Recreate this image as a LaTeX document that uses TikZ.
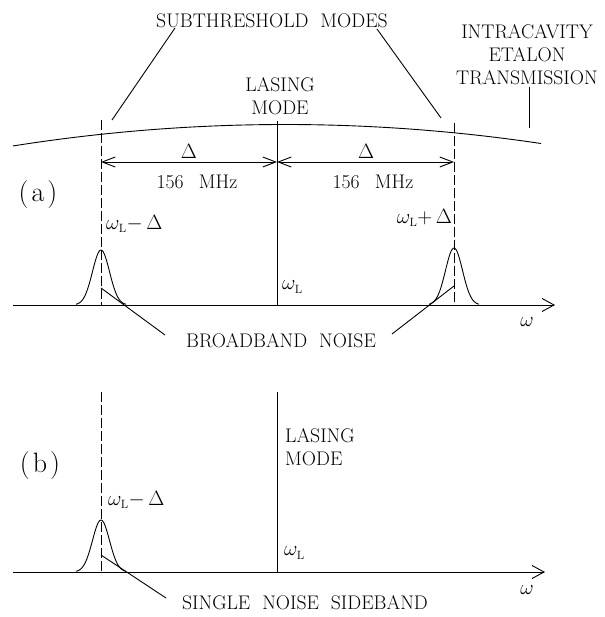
\documentclass[tikz,border=0pt]{standalone}
\usetikzlibrary{arrows.meta,math}

\tikzset{
  caption/.style={font=\fontsize{19.7}{23}\selectfont, inner sep=0pt},
  captionblock/.style={caption, align=center},
  maths/.style={font=\fontsize{20.74}{24}\selectfont, inner sep=0pt},
  panel/.style={font=\fontsize{28}{32}\selectfont, inner sep=0pt},
  thinline/.style={line width=0.9pt},
  modeline/.style={line width=0.9pt, dash pattern=on 10pt off 3pt},
  freqaxis/.style={line width=0.9pt, -{Straight Barb[length=12pt,width=13pt]}},
  spacing/.style={line width=0.9pt, {Straight Barb[length=13pt,width=10pt]}-{Straight Barb[length=13pt,width=10pt]}},
}

\begin{document}
\begin{tikzpicture}[x=1pt,y=-1pt]
\tikzmath{
\xl=101; \xc=277; \xr=454;
\ya=305; \yb=572;
}
\useasboundingbox (0,0) rectangle (604,617);

%% (a) three modes
\coordinate (A0) at (13,\ya);
\coordinate (A1) at (555,\ya);
\draw[freqaxis] (A0) -- (A1);

\draw[thinline] plot[domain=13:541,samples=60] (\x,{124.5+2.9*((\x-285)/100)^2});

\coordinate (LtopA) at (\xl,120);
\coordinate (LbotA) at (\xl,\ya);
\coordinate (CtopA) at (\xc,121);
\coordinate (CbotA) at (\xc,\ya);
\coordinate (RtopA) at (\xr,123);
\coordinate (RbotA) at (\xr,\ya);
\draw[modeline] (LtopA) -- (LbotA);
\draw[modeline] (RtopA) -- (RbotA);
\draw[thinline] (CtopA) -- (CbotA);

\foreach \m/\h in {\xl/55,\xr/57}{
\draw[thinline] plot[domain=-25:25,samples=61] ({\m+\x},{\ya-\h*exp(-(\x*\x)/145)});
}

\coordinate (D0) at (\xl,162);
\coordinate (D1) at (\xc,162);
\coordinate (D2) at (\xr,162);
\draw[spacing] (D0) -- (D1);
\draw[spacing] (D1) -- (D2);

\node[maths] (delL) at (189,151) {$\Delta$};
\node[maths] (delR) at (366,151) {$\Delta$};
\node[caption] (mhzL) at (197,182) {156\ \ \,MHz};
\node[caption] (mhzR) at (373,182) {156\ \ \,MHz};

\node[caption] (sub) at (272,21) {SUBTHRESHOLD\ \ MODES};
\node[captionblock] (etalon) at (527,55) {INTRACAVITY\\ETALON\\TRANSMISSION};
\node[captionblock] (lasA) at (280,96) {LASING\\MODE};
\node[caption] (bb) at (281,341) {BROADBAND\ \ NOISE};

\node[panel] (pa) at (38,195) {(\kern3pt a\kern3pt)};
\node[maths, anchor=west] (wlmA) at (106,224) {$\omega_{\scriptscriptstyle\mathrm{L}}{-}\,\Delta$};
\node[maths, anchor=east] (wlpA) at (452,218) {$\omega_{\scriptscriptstyle\mathrm{L}}{+}\,\Delta$};
\node[maths, anchor=west] (wlA) at (282,287) {$\omega_{\scriptscriptstyle\mathrm{L}}$};
\node[maths] (wA) at (527,322) {$\omega$};

\coordinate (subL) at (175,28);
\coordinate (modeL) at (112,120);
\coordinate (subR) at (377,29);
\coordinate (modeR) at (441,118);
\coordinate (etTop) at (529,87);
\coordinate (etBot) at (529,128);
\coordinate (pkL) at (\xl,288);
\coordinate (bbL) at (165,335);
\coordinate (pkR) at (\xr,286);
\coordinate (bbR) at (392,334);
\draw[thinline] (subL) -- (modeL);
\draw[thinline] (subR) -- (modeR);
\draw[thinline] (etTop) -- (etBot);
\draw[thinline] (pkL) -- (bbL);
\draw[thinline] (pkR) -- (bbR);

%% (b) single sideband
\coordinate (B0) at (13,\yb);
\coordinate (B1) at (545,\yb);
\draw[freqaxis] (B0) -- (B1);

\coordinate (LtopB) at (\xl,392);
\coordinate (LbotB) at (\xl,\yb);
\coordinate (CtopB) at (\xc,392);
\coordinate (CbotB) at (\xc,\yb);
\draw[modeline] (LtopB) -- (LbotB);
\draw[thinline] (CtopB) -- (CbotB);

\draw[thinline] plot[domain=-25:25,samples=61] ({\xl+\x},{\yb-52*exp(-(\x*\x)/145)});

\node[panel] (pb) at (40,466) {(\kern3pt b\kern3pt)};
\node[captionblock, anchor=west, align=left] (lasB) at (285,447) {LASING\\MODE};
\node[maths, anchor=west] (wlmB) at (108,500) {$\omega_{\scriptscriptstyle\mathrm{L}}{-}\,\Delta$};
\node[maths, anchor=west] (wlB) at (284,553) {$\omega_{\scriptscriptstyle\mathrm{L}}$};
\node[maths] (wB) at (527,590) {$\omega$};
\node[caption] (sn) at (305,603) {SINGLE\ \ NOISE\ \ SIDEBAND};

\coordinate (pkB) at (\xl,555);
\coordinate (snB) at (166,598);
\draw[thinline] (pkB) -- (snB);

\end{tikzpicture}
\end{document}
